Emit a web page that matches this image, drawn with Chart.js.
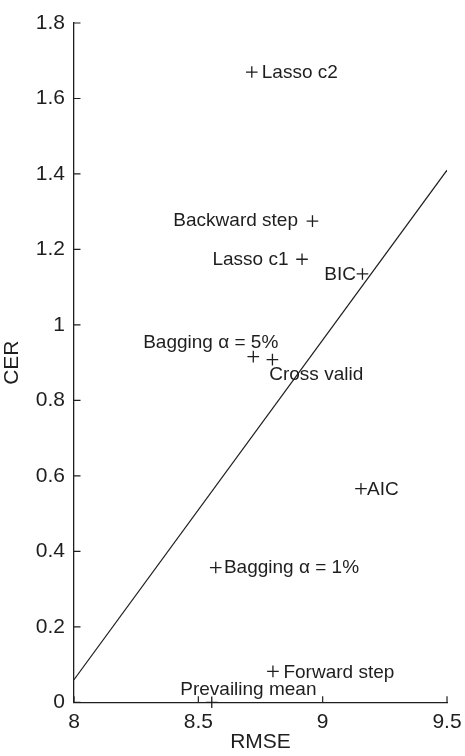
<!DOCTYPE html>
<html>
<head>
<meta charset="utf-8">
<script src="https://cdn.jsdelivr.net/npm/chart.js@4.4.1/dist/chart.umd.min.js"></script>
<style>
  html, body { margin: 0; padding: 0; background: #ffffff; }
  #wrap { width: 465px; height: 756px; position: relative; }
</style>
</head>
<body>
<div id="wrap"><canvas id="c"></canvas></div>
<script>
// ---- data ----
const methodNames = ['Lasso c2', 'Backward step', 'Lasso c1', 'BIC', 'Bagging α = 5%', 'Cross valid',
                     'AIC', 'Bagging α = 1%', 'Forward step', 'Prevailing mean'];
const rmseValues = [8.715, 8.959, 8.917, 9.160, 8.721, 8.798, 9.154, 8.570, 8.800, 8.554];
const cerValues  = [1.670, 1.275, 1.174, 1.135, 0.916, 0.908, 0.566, 0.357, 0.082, 0.000];
const fitLineX = [8, 9.5];
const fitLineY = [0.06, 1.41];
const xTickValues = [8, 8.5, 9, 9.5];
const xTickLabels = ['8', '8.5', '9', '9.5'];
const yTickValues = [0, 0.2, 0.4, 0.6, 0.8, 1, 1.2, 1.4, 1.6, 1.8];
const yTickLabels = ['0', '0.2', '0.4', '0.6', '0.8', '1', '1.2', '1.4', '1.6', '1.8'];

// label placement (style): [textAlign, dx, dy-to-baseline]
const labelPlacement = [
  ['left', 10, 5.5],
  ['right', -14.5, 5],
  ['right', -13.5, 6],
  ['right', -6.5, 6],
  ['right', 25, -8.4],
  ['left', -3.2, 20.5],
  ['left', 6, 6],
  ['left', 8.2, 5.8],
  ['left', 10.5, 6.4],
  ['center', 36.6, -7.3]
];

const INK = '#1e1e1e';
const FONT = "'Liberation Sans', Arial, Helvetica, sans-serif";

const inwardTicks = {
  id: 'inwardTicks',
  afterDraw(chart) {
    const ctx = chart.ctx;
    const xs = chart.scales.x, ys = chart.scales.y;
    const area = chart.chartArea;
    ctx.save();
    ctx.strokeStyle = INK;
    ctx.lineWidth = 1.2;
    ctx.beginPath();
    xTickValues.forEach(v => {
      const px = xs.getPixelForValue(v);
      ctx.moveTo(px, area.bottom);
      ctx.lineTo(px, area.bottom - 6);
    });
    yTickValues.forEach(v => {
      const py = ys.getPixelForValue(v);
      ctx.moveTo(area.left, py);
      ctx.lineTo(area.left + 6.5, py);
    });
    ctx.stroke();
    ctx.restore();
  }
};

const pointLabels = {
  id: 'pointLabels',
  afterDatasetsDraw(chart) {
    const meta = chart.getDatasetMeta(1);
    const ctx = chart.ctx;
    ctx.save();
    ctx.fillStyle = INK;
    ctx.font = '19px ' + FONT;
    ctx.textBaseline = 'alphabetic';
    meta.data.forEach((el, i) => {
      const p = labelPlacement[i];
      ctx.textAlign = p[0];
      ctx.fillText(methodNames[i], el.x + p[1], el.y + p[2]);
    });
    ctx.restore();
  }
};

new Chart(document.getElementById('c'), {
  type: 'scatter',
  data: {
    datasets: [
      {
        data: fitLineX.map((x, i) => ({ x: x, y: fitLineY[i] })),
        showLine: true,
        borderColor: INK,
        borderWidth: 1.2,
        pointRadius: 0,
        fill: false
      },
      {
        data: rmseValues.map((x, i) => ({ x: x, y: cerValues[i] })),
        pointStyle: 'cross',
        pointRadius: 5.8,
        pointBorderColor: INK,
        pointBorderWidth: 1.3,
        pointBackgroundColor: INK,
        clip: false
      }
    ]
  },
  options: {
    responsive: true,
    maintainAspectRatio: false,
    animation: false,
    events: [],
    layout: { padding: { top: 23, right: 18, left: 0, bottom: 0 } },
    plugins: { legend: { display: false }, tooltip: { enabled: false } },
    scales: {
      x: {
        type: 'linear',
        min: 8, max: 9.5,
        grid: { display: false, drawTicks: false },
        border: { display: true, color: INK, width: 1.3 },
        afterBuildTicks: s => { s.ticks = xTickValues.map(v => ({ value: v })); },
        afterFit: s => { s.height = 53.7; s.paddingLeft = 0; s.paddingRight = 0; },
        ticks: {
          color: INK,
          font: { family: FONT, size: 21 },
          padding: 7,
          maxRotation: 0,
          autoSkip: false,
          callback: (v) => xTickLabels[xTickValues.indexOf(v)]
        },
        title: {
          display: true, text: 'RMSE', color: INK,
          font: { family: FONT, size: 21 },
          padding: { top: 0, bottom: 1 }
        }
      },
      y: {
        type: 'linear',
        min: 0, max: 1.8,
        grid: { display: false, drawTicks: false },
        border: { display: true, color: INK, width: 1.3 },
        afterBuildTicks: s => { s.ticks = yTickValues.map(v => ({ value: v })); },
        afterFit: s => { s.width = 74; s.paddingTop = 0; s.paddingBottom = 0; },
        ticks: {
          color: INK,
          font: { family: FONT, size: 21 },
          padding: 9,
          autoSkip: false,
          callback: (v) => yTickLabels[yTickValues.indexOf(v)]
        },
        title: {
          display: true, text: 'CER', color: INK,
          font: { family: FONT, size: 21 },
          padding: { top: 0, bottom: 0 }
        }
      }
    }
  },
  plugins: [inwardTicks, pointLabels]
});
</script>
</body>
</html>
